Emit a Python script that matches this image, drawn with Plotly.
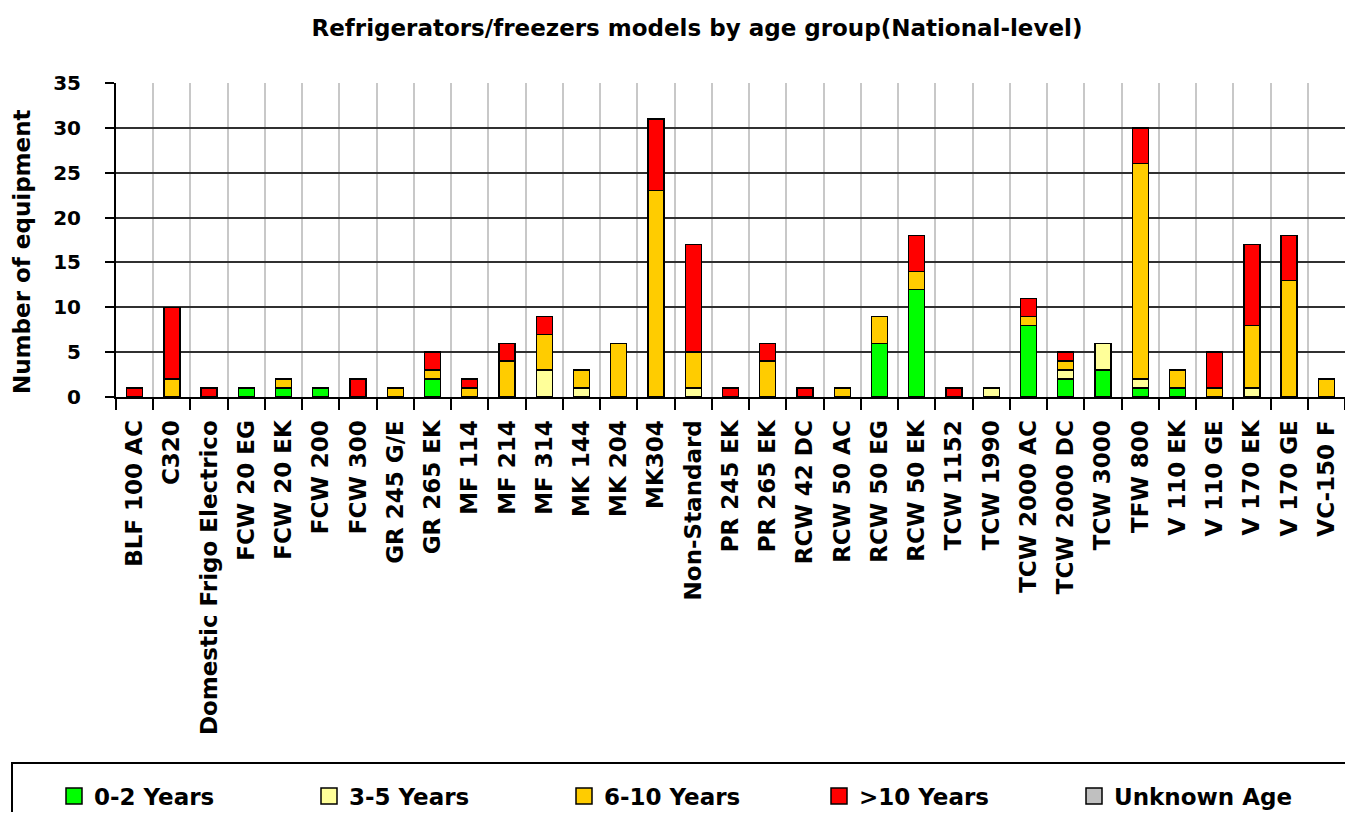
import plotly.graph_objects as go

categories = ["BLF 100 AC", "C320", "Domestic Frigo Electrico", "FCW 20 EG", "FCW 20 EK", "FCW 200",
              "FCW 300", "GR 245 G/E", "GR 265 EK", "MF 114", "MF 214", "MF 314", "MK 144", "MK 204",
              "MK304", "Non-Standard", "PR 245 EK", "PR 265 EK", "RCW 42 DC", "RCW 50 AC", "RCW 50 EG",
              "RCW 50 EK", "TCW 1152", "TCW 1990", "TCW 2000 AC", "TCW 2000 DC", "TCW 3000", "TFW 800",
              "V 110 EK", "V 110 GE", "V 170 EK", "V 170 GE", "VC-150 F"]

age_0_2 =   [0, 0, 0, 1, 1, 1, 0, 0, 2, 0, 0, 0, 0, 0, 0, 0, 0, 0, 0, 0, 6, 12, 0, 0, 8, 2, 3, 1, 1, 0, 0, 0, 0]
age_3_5 =   [0, 0, 0, 0, 0, 0, 0, 0, 0, 0, 0, 3, 1, 0, 0, 1, 0, 0, 0, 0, 0, 0, 0, 1, 0, 1, 3, 1, 0, 0, 1, 0, 0]
age_6_10 =  [0, 2, 0, 0, 1, 0, 0, 1, 1, 1, 4, 4, 2, 6, 23, 4, 0, 4, 0, 1, 3, 2, 0, 0, 1, 1, 0, 24, 2, 1, 7, 13, 2]
age_10p =   [1, 8, 1, 0, 0, 0, 2, 0, 2, 1, 2, 2, 0, 0, 8, 12, 1, 2, 1, 0, 0, 4, 1, 0, 2, 1, 0, 4, 0, 4, 9, 5, 0]
age_unknown = [None] * len(categories)

series_names = ["0-2 Years", "3-5 Years", "6-10 Years", ">10 Years", "Unknown Age"]
series_values = [age_0_2, age_3_5, age_6_10, age_10p, age_unknown]
series_colors = ["#00FF00", "#FFFF99", "#FFCC00", "#FF0000", "#C0C0C0"]

FONT = "DejaVu Sans"
# figure sized so that, with the page's 8px body margin, it fills the 1353x820 window exactly
W, H = 1337, 804
L, R, T, B = 108, 0, 75, 415
PW, PH = W - L - R, H - T - B
PB = T + PH  # plot bottom in figure px

fig = go.Figure()
for name, vals, color in zip(series_names, series_values, series_colors):
    v = [None if (x is None or x == 0) else x for x in vals]
    fig.add_trace(go.Bar(x=categories, y=v, name=name, showlegend=False,
                         marker=dict(color=color, line=dict(color="black", width=1.3))))
# legend entries (square swatches)
for name, color in zip(series_names, series_colors):
    fig.add_trace(go.Scatter(x=[None], y=[None], mode="markers", name=name,
                             marker=dict(symbol="square", size=16, color=color,
                                         line=dict(color="black", width=1.5))))

fig.update_layout(
    barmode="stack",
    bargap=0.57,
    width=W, height=H,
    margin=dict(l=L, r=R, t=T, b=B, autoexpand=False),
    plot_bgcolor="white", paper_bgcolor="white",
    font=dict(family=FONT, color="black", weight="bold"),
    title=dict(text="Refrigerators/freezers models by age group(National-level)",
               x=689 / W, xanchor="center", y=1 - 20 / H, yanchor="middle",
               font=dict(size=23, family=FONT, color="black", weight="bold")),
    xaxis=dict(type="category", tickson="boundaries", showgrid=True, gridcolor="#C8C8C8", gridwidth=2,
               ticks="outside", ticklen=11, tickcolor="black", tickwidth=2,
               showline=True, linecolor="black", linewidth=2, automargin=False,
               tickangle=-90, tickfont=dict(size=23, family=FONT, color="black", weight="bold"),
               ticklabelstandoff=12,
               range=[-0.5, len(categories) - 0.5]),
    yaxis=dict(range=[0, 35], dtick=5, showgrid=True, gridcolor="#303030", gridwidth=2,
               ticks="outside", ticklen=9, tickcolor="black", tickwidth=2,
               showline=True, linecolor="black", linewidth=2, zeroline=False, automargin=False,
               tickfont=dict(size=20, family=FONT, color="black", weight="bold"),
               ticklabelstandoff=20),
    annotations=[dict(text="Number of equipment", textangle=-90, showarrow=False,
                      xref="paper", yref="paper", x=(14 - L) / PW, y=(PB - 244) / PH,
                      xanchor="center", yanchor="middle",
                      font=dict(size=23, family=FONT, color="black", weight="bold"))],
    legend=dict(orientation="h", x=(46 - L) / PW, xanchor="left", y=-(788 - PB) / PH, yanchor="middle",
                borderwidth=0, entrywidth=210, entrywidthmode="pixels",
                font=dict(size=23, family=FONT, color="black", weight="bold"),
                traceorder="normal", bgcolor="rgba(0,0,0,0)", itemclick=False),
    shapes=[dict(type="rect", xref="paper", yref="paper",
                 x0=(4 - L) / PW, x1=(1380 - L) / PW,
                 y0=-(840 - PB) / PH, y1=-(755 - PB) / PH,
                 line=dict(color="black", width=2), fillcolor="rgba(0,0,0,0)", layer="below")],
)

fig.write_html("out.html")
